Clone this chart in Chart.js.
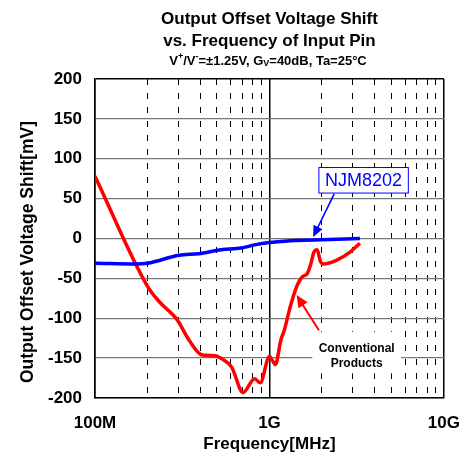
<!DOCTYPE html>
<html>
<head>
<meta charset="utf-8">
<script src="https://cdn.jsdelivr.net/npm/chart.js@4.4.0/dist/chart.umd.min.js"></script>
<style>
  html, body { margin: 0; padding: 0; background: #fff; }
</style>
</head>
<body>
<canvas id="chart" width="475" height="457"></canvas>
<script>
// frequencies in MHz, offset shift in mV
const blueFreq = [100, 172, 200, 303, 393, 530, 688, 822, 1000, 1270, 1800, 3300];
const blueShift = [-31, -32, -31, -21, -19, -14, -12, -8, -5, -3, -2, 0];

const redFreq = [100, 200, 233, 296, 345, 410, 488, 544, 606, 706, 822, 885, 1000, 1081, 1163, 1216,
  1325, 1446, 1543, 1647, 1720, 1800, 1877, 1960, 2048, 2435, 2896, 3300];
const redShift = [78, -60, -79, -102, -127, -146, -147, -152, -161, -193, -176, -181, -148, -158, -127, -115,
  -83, -58, -48, -44, -33, -17, -14, -29, -32, -27, -17, -6];

const xTickValues = [100, 1000, 10000];
const xTickLabels = ['100M', '1G', '10G'];

const titleLines = ['Output Offset Voltage Shift', 'vs. Frequency of Input Pin'];
const yTitle = 'Output Offset Voltage Shift[mV]';
const xTitle = 'Frequency[MHz]';

const FONT = "'Liberation Sans', Arial, Helvetica, sans-serif";
const BLUE = '#0000ff';
const RED = '#ff0000';

// annotation anchors in data units (MHz, mV)
const NOTE = {
  boxF: [1920, 6250], boxV: [89, 57], textAt: [3460, 73],
  blueFrom: [2350, 56], blueTo: [1780, 2],
  redFrom: [1920, -115], redTo: [1430, -71],
  convF: [1760, 5680], convV: [-117, -169], convText: [3160, -137.6, -157.6]
};

const toPoints = (xs, ys) => xs.map((x, i) => ({ x: x, y: ys[i] }));

function arrow(ctx, x1, y1, x2, y2, color, w, head) {
  const a = Math.atan2(y2 - y1, x2 - x1);
  const c = Math.cos(a), s = Math.sin(a);
  ctx.strokeStyle = color;
  ctx.fillStyle = color;
  ctx.lineWidth = w;
  ctx.beginPath();
  ctx.moveTo(x1, y1);
  ctx.lineTo(x2 - head * 0.8 * c, y2 - head * 0.8 * s);
  ctx.stroke();
  ctx.beginPath();
  ctx.moveTo(x2, y2);
  ctx.lineTo(x2 - head * c + head * 0.45 * s, y2 - head * s - head * 0.45 * c);
  ctx.lineTo(x2 - head * c - head * 0.45 * s, y2 - head * s + head * 0.45 * c);
  ctx.closePath();
  ctx.fill();
}

const decor = {
  id: 'decor',
  afterDraw(chart) {
    const ctx = chart.ctx;
    const xs = chart.scales.x, ys = chart.scales.y;
    const area = chart.chartArea;
    const X = f => xs.getPixelForValue(f);
    const Y = v => ys.getPixelForValue(v);
    ctx.save();

    // titles
    ctx.fillStyle = '#000';
    ctx.textAlign = 'center';
    ctx.textBaseline = 'middle';
    ctx.font = 'bold 17px ' + FONT;
    const cx = (area.left + area.right) / 2;
    ctx.fillText(titleLines[0], cx, 19);
    ctx.fillText(titleLines[1], cx, 41);

    // subtitle with super / subscripts
    const parts = [
      { t: 'V' }, { t: '+', d: -4 }, { t: '/V' }, { t: '-', d: -4 },
      { t: '=\u00b11.25V, G' }, { t: 'V', d: 3 }, { t: '=40dB, Ta=25\u00b0C' }
    ];
    const fontOf = p => p.d ? 'bold 9px ' + FONT : 'bold 13px ' + FONT;
    let total = 0;
    parts.forEach(p => { ctx.font = fontOf(p); p.w = ctx.measureText(p.t).width; total += p.w; });
    let sx = 268 - total / 2;
    ctx.textAlign = 'left';
    parts.forEach(p => {
      ctx.font = fontOf(p);
      ctx.fillText(p.t, sx, 61 + (p.d || 0));
      sx += p.w;
    });

    // y axis title
    ctx.save();
    ctx.translate(28, 252);
    ctx.rotate(-Math.PI / 2);
    ctx.textAlign = 'center';
    ctx.font = 'bold 17.5px ' + FONT;
    ctx.fillText(yTitle, 0, 0);
    ctx.restore();

    // NJM8202 label box + arrow
    const bx1 = X(NOTE.boxF[0]), bx2 = X(NOTE.boxF[1]);
    const by1 = Y(NOTE.boxV[0]), by2 = Y(NOTE.boxV[1]);
    ctx.fillStyle = '#fff';
    ctx.fillRect(bx1, by1, bx2 - bx1, by2 - by1);
    ctx.strokeStyle = BLUE;
    ctx.lineWidth = 1;
    ctx.strokeRect(bx1, by1, bx2 - bx1, by2 - by1);
    ctx.fillStyle = BLUE;
    ctx.textAlign = 'center';
    ctx.font = '18px ' + FONT;
    ctx.fillText('NJM8202', X(NOTE.textAt[0]), Y(NOTE.textAt[1]) + 1);
    arrow(ctx, X(NOTE.blueFrom[0]), Y(NOTE.blueFrom[1]), X(NOTE.blueTo[0]), Y(NOTE.blueTo[1]), BLUE, 1.6, 11);

    // Conventional Products label + arrow
    const cx1 = X(NOTE.convF[0]), cx2 = X(NOTE.convF[1]);
    const cy1 = Y(NOTE.convV[0]), cy2 = Y(NOTE.convV[1]);
    ctx.fillStyle = '#fff';
    ctx.fillRect(cx1, cy1, cx2 - cx1, cy2 - cy1);
    ctx.fillStyle = '#000';
    ctx.font = 'bold 12px ' + FONT;
    ctx.fillText('Conventional', X(NOTE.convText[0]), Y(NOTE.convText[1]));
    ctx.fillText('Products', X(NOTE.convText[0]), Y(NOTE.convText[2]));
    arrow(ctx, X(NOTE.redFrom[0]), Y(NOTE.redFrom[1]), X(NOTE.redTo[0]), Y(NOTE.redTo[1]), RED, 2, 12);

    ctx.restore();
  }
};

function isDecade(v) {
  const e = Math.log10(v);
  return Math.abs(e - Math.round(e)) < 1e-9;
}

new Chart(document.getElementById('chart'), {
  type: 'line',
  data: {
    datasets: [
      {
        label: 'NJM8202',
        data: toPoints(blueFreq, blueShift),
        borderColor: BLUE,
        borderWidth: 3.5,
        pointRadius: 0,
        cubicInterpolationMode: 'monotone',
        fill: false
      },
      {
        label: 'Conventional Products',
        data: toPoints(redFreq, redShift),
        borderColor: RED,
        borderWidth: 3.5,
        pointRadius: 0,
        cubicInterpolationMode: 'monotone',
        fill: false
      }
    ]
  },
  options: {
    responsive: false,
    animation: false,
    layout: { padding: { top: 79, right: 27, left: 0, bottom: 0 } },
    plugins: {
      legend: { display: false },
      tooltip: { enabled: false }
    },
    scales: {
      x: {
        type: 'logarithmic',
        min: 100,
        max: 10000,
        afterBuildTicks: scale => {
          // keep 1..9 x decade only
          scale.ticks = scale.ticks.filter(t => {
            const m = t.value / Math.pow(10, Math.floor(Math.log10(t.value) + 1e-9));
            return Math.abs(m - Math.round(m)) < 1e-6;
          });
        },
        afterFit: scale => { scale.height = 59; },
        ticks: {
          autoSkip: false,
          maxRotation: 0,
          padding: 15,
          color: '#000',
          font: { family: FONT, size: 17, weight: 'bold' },
          callback: value => {
            const i = xTickValues.indexOf(value);
            return i >= 0 ? xTickLabels[i] : '';
          }
        },
        grid: {
          drawTicks: false,
          color: '#000',
          lineWidth: ctx => (ctx.tick && isDecade(ctx.tick.value)) ? 1.5 : 1
        },
        border: {
          color: '#000',
          width: 1.5,
          dash: ctx => (ctx.tick && !isDecade(ctx.tick.value)) ? [6, 8] : []
        },
        title: {
          display: true,
          text: xTitle,
          color: '#000',
          font: { family: FONT, size: 17, weight: 'bold' },
          padding: { top: 0, bottom: 2 }
        }
      },
      y: {
        min: -200,
        max: 200,
        afterFit: scale => { scale.width = 95; },
        ticks: {
          stepSize: 50,
          padding: 13,
          color: '#000',
          font: { family: FONT, size: 17, weight: 'bold' }
        },
        grid: {
          drawTicks: false,
          color: ctx => (ctx.tick && ctx.tick.value === 200) ? '#000' : '#777',
          lineWidth: ctx => (ctx.tick && ctx.tick.value === 200) ? 1.5 : 1.3
        },
        border: { color: '#000', width: 1.5 }
      }
    }
  },
  plugins: [decor]
});
</script>
</body>
</html>
